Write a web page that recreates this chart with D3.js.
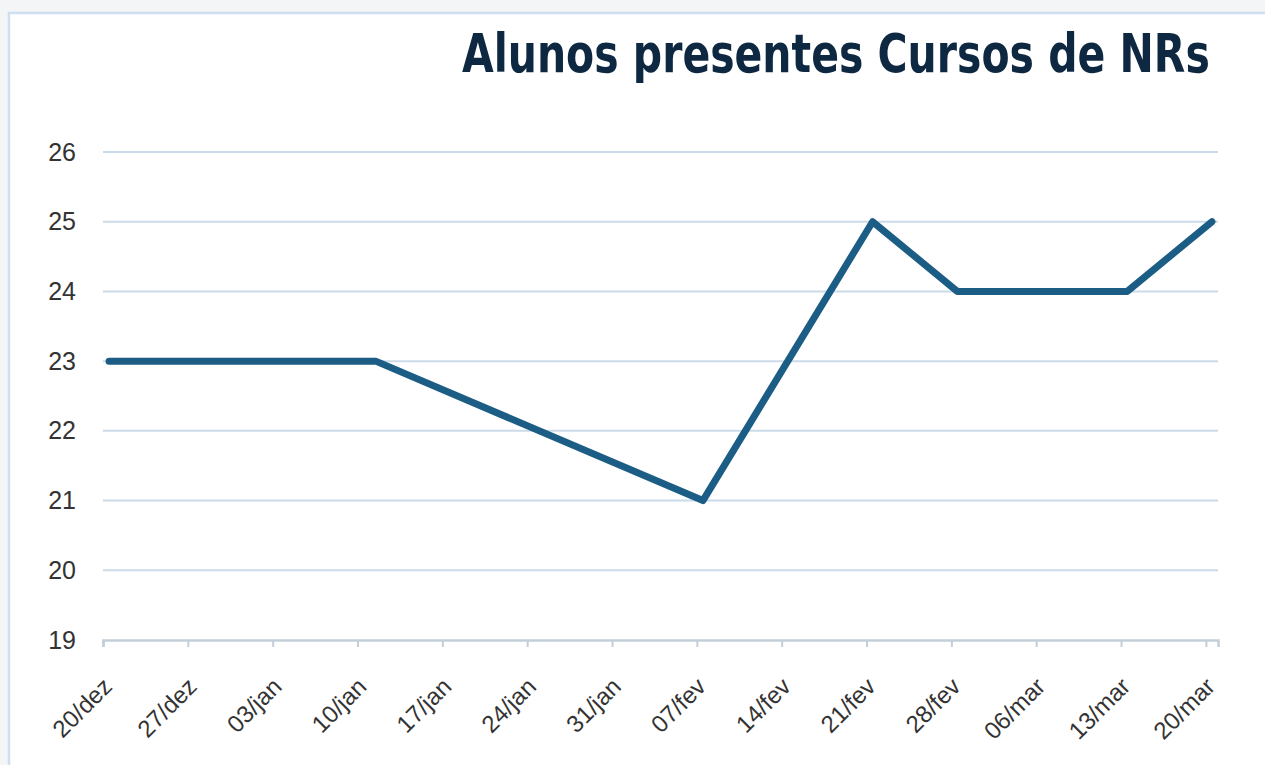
<!DOCTYPE html>
<html>
<head>
    <title>Alunos presentes Cursos de NRs</title>
    <script src="https://d3js.org/d3.v7.min.js"></script>
    <style>
        html, body { margin: 0; padding: 0; background: #f4f5f6; }
        #chart { width: 1265px; height: 765px; }
    </style>
</head>
<body>
    <div id="chart"></div>

    <script>
        // Data (dates 2023/2024, leap year -> 06/mar tick)
        var dates = ["2023-12-20", "2024-01-11", "2024-02-07", "2024-02-21", "2024-02-28", "2024-03-13", "2024-03-20"];
        var alunos = [23, 23, 21, 25, 24, 24, 25];

        var tickDates = ["2023-12-20", "2023-12-27", "2024-01-03", "2024-01-10", "2024-01-17", "2024-01-24", "2024-01-31",
                         "2024-02-07", "2024-02-14", "2024-02-21", "2024-02-28", "2024-03-06", "2024-03-13", "2024-03-20"];
        var tickLabels = ["20/dez", "27/dez", "03/jan", "10/jan", "17/jan", "24/jan", "31/jan",
                          "07/fev", "14/fev", "21/fev", "28/fev", "06/mar", "13/mar", "20/mar"];
        var yTicks = [19, 20, 21, 22, 23, 24, 25, 26];

        var title = "Alunos presentes Cursos de NRs";

        var width = 1265, height = 765;
        var parse = d3.utcParse("%Y-%m-%d");

        var svg = d3.select("#chart")
            .append("svg")
            .attr("width", width)
            .attr("height", height);

        // chart frame
        svg.append("rect")
            .attr("x", 9)
            .attr("y", 13)
            .attr("width", 1280)
            .attr("height", 800)
            .attr("fill", "#ffffff")
            .attr("stroke", "#cddff0")
            .attr("stroke-width", 2.5);

        // scales: date axis, points sit in the middle of their day
        var start = parse(tickDates[0]);
        var end = d3.utcDay.offset(parse(tickDates[tickDates.length - 1]), 1);
        var x = d3.scaleUtc().domain([start, end]).range([103, 1218]);
        var y = d3.scaleLinear().domain([19, 26]).range([640, 152]);

        var points = dates.map(function(d, i) {
            return { date: d3.utcHour.offset(parse(d), 12), value: alunos[i] };
        });

        // gridlines
        svg.append("g")
            .selectAll("line")
            .data(yTicks.filter(function(v) { return v > 19; }))
            .enter().append("line")
            .attr("x1", x.range()[0])
            .attr("x2", x.range()[1])
            .attr("y1", function(d) { return y(d); })
            .attr("y2", function(d) { return y(d); })
            .attr("stroke", "#ccdbe9")
            .attr("stroke-width", 2);

        // y axis labels
        var yAxis = svg.append("g")
            .attr("transform", "translate(76,0)")
            .call(d3.axisLeft(y).tickValues(yTicks).tickFormat(d3.format("d")).tickSize(0).tickPadding(0));
        yAxis.select(".domain").remove();
        yAxis.selectAll("text")
            .attr("font-family", "'Liberation Sans', Arial, sans-serif")
            .attr("font-size", 25)
            .attr("fill", "#333333");

        // x axis
        var xAxis = svg.append("g")
            .attr("transform", "translate(0," + y(19) + ")")
            .call(d3.axisBottom(x)
                .tickValues(tickDates.map(parse))
                .tickFormat(function(d, i) { return tickLabels[i]; })
                .tickSizeOuter(0)
                .tickSize(7));
        xAxis.select(".domain")
            .attr("stroke", "#c3ced9")
            .attr("stroke-width", 2.5);
        xAxis.selectAll(".tick line")
            .attr("stroke", "#c3ced9")
            .attr("stroke-width", 2);
        xAxis.selectAll(".tick text")
            .attr("font-family", "'Liberation Sans', Arial, sans-serif")
            .attr("font-size", 24)
            .attr("fill", "#333333")
            .attr("text-anchor", "end")
            .attr("dy", null)
            .attr("y", 0)
            .attr("transform", "translate(10,48) rotate(-45)");

        // line
        var line = d3.line()
            .x(function(d) { return x(d.date); })
            .y(function(d) { return y(d.value); });

        svg.append("path")
            .datum(points)
            .attr("d", line)
            .attr("fill", "none")
            .attr("stroke", "#1c5d85")
            .attr("stroke-width", 7)
            .attr("stroke-linejoin", "round")
            .attr("stroke-linecap", "round");

        // title, right aligned, squeezed to the condensed look of the original
        var t = svg.append("text")
            .attr("font-family", "'Liberation Sans Narrow', 'DejaVu Sans Condensed', 'Liberation Sans', sans-serif")
            .attr("font-weight", "bold")
            .attr("font-size", 54)
            .attr("fill", "#0e2841")
            .attr("text-anchor", "start")
            .text(title);
        var tw = t.node().getComputedTextLength();
        var sx = 748 / tw;
        t.attr("transform", "translate(462,72) scale(" + sx + ",1)");
    </script>
</body>
</html>
